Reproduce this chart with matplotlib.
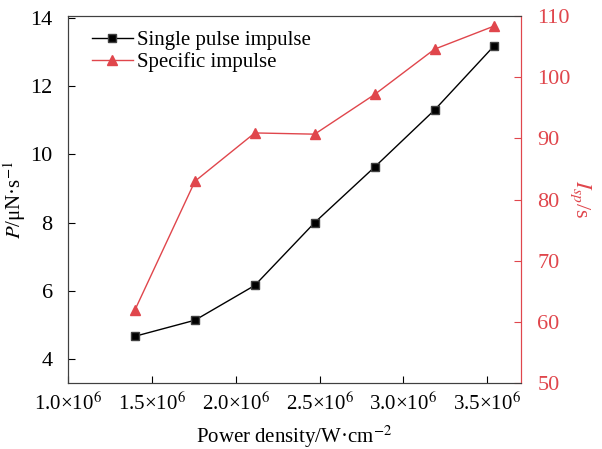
import matplotlib.pyplot as plt

plt.rcParams['font.family'] = ['Liberation Serif', 'DejaVu Serif']
plt.rcParams['mathtext.fontset'] = 'stix'

power_density = [1.40e6, 1.757e6, 2.114e6, 2.471e6, 2.829e6, 3.186e6, 3.543e6]
single_pulse = [4.67, 5.14, 6.16, 8.0, 9.63, 11.3, 13.19]
specific_imp = [62.0, 83.0, 90.9, 90.7, 97.2, 104.6, 108.4]
xtick_vals = [1.0e6, 1.5e6, 2.0e6, 2.5e6, 3.0e6, 3.5e6]
xtick_labels = ["1.0×10$^{6}$", "1.5×10$^{6}$", "2.0×10$^{6}$",
                "2.5×10$^{6}$", "3.0×10$^{6}$", "3.5×10$^{6}$"]

red = "#e0464c"
gray = "#404040"

fig = plt.figure(figsize=(6.02, 4.49), dpi=100)
ax = fig.add_axes([0.113, 0.147, 0.752, 0.817])
ax2 = ax.twinx()

l1, = ax.plot(power_density, single_pulse, color="black", lw=1.0, marker="s",
              ms=6, mfc="black", mec=gray, label="Single pulse impulse")
l2, = ax2.plot(power_density, specific_imp, color=red, lw=1.0, marker="^",
               ms=7, mfc=red, mec=red, label="Specific impulse")

ax.set_xlim(1.0e6, 3.7e6)
ax.set_ylim(3.3, 14.05)
ax2.set_ylim(50, 110)
ax.set_xticks(xtick_vals)
ax.set_xticklabels(xtick_labels)
ax.set_yticks([4, 6, 8, 10, 12, 14])
ax2.set_yticks([50, 60, 70, 80, 90, 100, 110])

ax.tick_params(direction="in", length=5, labelsize=16, colors="black")
ax.tick_params(axis="x", pad=7, labelsize=15)
ax.tick_params(axis="y", pad=11)
ax2.tick_params(direction="in", length=5, labelsize=16, colors=red, pad=12)

for s in ["left", "top", "bottom"]:
    ax.spines[s].set_color(gray)
    ax2.spines[s].set_color(gray)
ax2.spines["right"].set_color(red)
ax.spines["right"].set_color(red)

ax.set_xlabel("Power density/W·cm$^{-2}$", fontsize=15, labelpad=6)
ax.set_ylabel("$P$/μN·s$^{-1}$", fontsize=15, labelpad=2)
ax2.set_ylabel("$I_{sp}$/s", fontsize=16, color=red, rotation=270, labelpad=16)

ax.legend(handles=[l1, l2], loc="upper left", frameon=False, fontsize=15,
          handlelength=2.0, handletextpad=0.2, labelspacing=0.1,
          borderaxespad=0.3, bbox_to_anchor=(0.02, 1.0))

fig.savefig("out.png", dpi=100)
